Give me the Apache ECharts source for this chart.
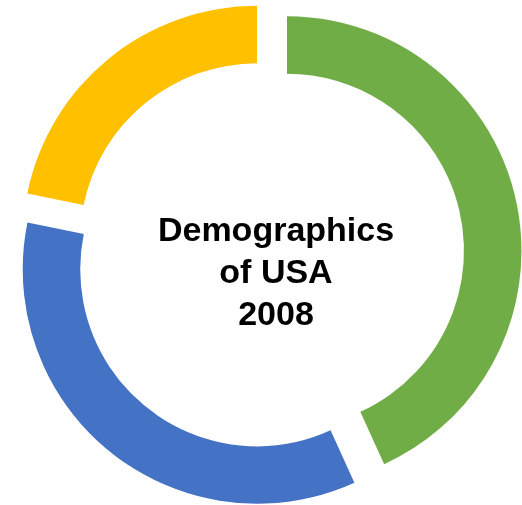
<!DOCTYPE html>
<html>
<head>
<meta charset="utf-8">
<script src="https://cdn.jsdelivr.net/npm/echarts@6/dist/echarts.min.js"></script>
<style>
html,body{margin:0;padding:0;background:#fff;}
#chart{width:522px;height:505px;}
</style>
</head>
<body>
<div id="chart"></div>
<script>
var categories = ['Group A', 'Group B', 'Group C'];
var values = [43.2, 35.0, 21.8];
var colors = ['#70AD47', '#4472C4', '#FFC000'];
var titleLines = ['Demographics', 'of USA', '2008'];

var chart = echarts.init(document.getElementById('chart'), null, {renderer: 'canvas'});
var data = categories.map(function (c, i) {
  return { name: c, value: values[i], selected: true, itemStyle: { color: colors[i] } };
});
chart.setOption({
  animation: false,
  backgroundColor: '#ffffff',
  graphic: [{
    type: 'text',
    x: 276, y: 274,
    style: {
      text: titleLines.join('\n'),
      align: 'center',
      verticalAlign: 'middle',
      fontFamily: 'Liberation Sans, Arial, sans-serif',
      fontWeight: 'bold',
      fontSize: 34,
      lineHeight: 42,
      fill: '#000000'
    }
  }],
  series: [{
    type: 'pie',
    center: [268.8, 254.7],
    radius: [177, 234.5],
    startAngle: 90,
    clockwise: true,
    selectedMode: 'multiple',
    selectedOffset: 18.6,
    label: { show: false },
    labelLine: { show: false },
    emphasis: { disabled: true, scale: false },
    itemStyle: { borderWidth: 0 },
    data: data
  }]
});
</script>
</body>
</html>
